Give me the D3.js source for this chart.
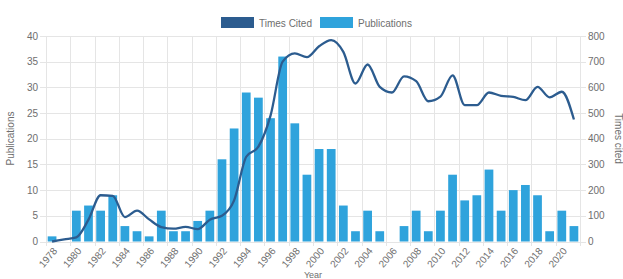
<!DOCTYPE html>
<html>
<head>
<meta charset="utf-8">
<script src="https://cdn.jsdelivr.net/npm/d3@7"></script>
<style>
  body { margin: 0; background: #fff; }
  svg { display: block; font-family: "Liberation Sans", Arial, sans-serif; }
</style>
</head>
<body>
<svg id="chart" width="623" height="279"></svg>
<script>
// Publications (bars, left axis) and times cited (line, right axis) per year
const years = d3.range(1978, 2022).map(String);
const publications = [1, 0, 6, 7, 6, 9, 3, 2, 1, 6, 2, 2, 4, 6, 16, 22, 29, 28, 24, 36, 23, 13,
  18, 18, 7, 2, 6, 2, 0, 3, 6, 2, 6, 13, 8, 9, 14, 6, 10, 11, 9, 2, 6, 3];
const timesCited = [0, 8, 16, 85, 180, 178, 95, 120, 86, 56, 50, 57, 48, 85, 100, 160, 330, 369, 490, 700, 732, 718,
  760, 784, 738, 615, 689, 602, 580, 643, 624, 546, 564, 647, 531, 531, 580, 567, 563, 550, 602, 561, 583, 475];
const pubTicks = d3.range(0, 41, 5);
const citeTicks = d3.range(0, 801, 100);

const colors = { bar: '#2fa3dc', line: '#2c5c8f', grid: '#e5e5e5', text: '#6e6e6e' };

const svg = d3.select('#chart');
const margin = { top: 36, right: 43, bottom: 38, left: 46 };
const width = 623, height = 279;
const x0 = margin.left, x1 = width - margin.right;
const y0 = height - margin.bottom, y1 = margin.top;

const x = d3.scaleBand().domain(years).range([x0, x1]).padding(0);
const yL = d3.scaleLinear().domain([0, 40]).range([y0 + 0.5, y1]);
const yR = d3.scaleLinear().domain([0, 800]).range([y0 + 0.5, y1]);

// horizontal grid (extends past axes as tick marks)
svg.append('g')
  .selectAll('line')
  .data(pubTicks)
  .join('line')
    .attr('x1', x0 - 6).attr('x2', x1 + 6)
    .attr('y1', d => Math.round(yL(d)) + 0.5).attr('y2', d => Math.round(yL(d)) + 0.5)
    .attr('stroke', colors.grid);

// vertical grid at left edge of every labelled year
const vGrid = years.filter((d, i) => i % 2 === 0).map(d => x(d)).concat([x1]);
svg.append('g')
  .selectAll('line')
  .data(vGrid)
  .join('line')
    .attr('x1', d => Math.round(d) + 0.5).attr('x2', d => Math.round(d) + 0.5)
    .attr('y1', y1).attr('y2', y0 + 5)
    .attr('stroke', colors.grid);

// bars
const barW = x.bandwidth() * 0.72;
svg.append('g')
  .selectAll('rect')
  .data(years)
  .join('rect')
    .attr('x', d => x(d) + (x.bandwidth() - barW) / 2)
    .attr('width', barW)
    .attr('y', (d, i) => yL(publications[i]))
    .attr('height', (d, i) => yL(0) - yL(publications[i]))
    .attr('fill', colors.bar);

// line
const line = d3.line()
  .x((d, i) => x(years[i]) + x.bandwidth() / 2)
  .y(d => yR(d))
  .curve(d3.curveMonotoneX);
svg.append('path')
  .datum(timesCited)
  .attr('d', line)
  .attr('fill', 'none')
  .attr('stroke', colors.line)
  .attr('stroke-width', 2.3)
  .attr('stroke-linejoin', 'round');

// left axis labels
svg.append('g')
  .selectAll('text')
  .data(pubTicks)
  .join('text')
    .attr('x', x0 - 8).attr('y', d => yL(d))
    .attr('dy', '0.35em')
    .attr('text-anchor', 'end')
    .attr('font-size', 10)
    .attr('fill', colors.text)
    .text(d => d);

// right axis labels
svg.append('g')
  .selectAll('text')
  .data(citeTicks)
  .join('text')
    .attr('x', x1 + 8).attr('y', d => yR(d))
    .attr('dy', '0.35em')
    .attr('text-anchor', 'start')
    .attr('font-size', 10)
    .attr('fill', colors.text)
    .text(d => d);

// x labels, every other year, rotated
svg.append('g')
  .selectAll('text')
  .data(years.filter((d, i) => i % 2 === 0))
  .join('text')
    .attr('transform', d => `translate(${x(d) + x.bandwidth() / 2 + 3},${y0 + 8}) rotate(-50)`)
    .attr('text-anchor', 'end')
    .attr('dy', '0.35em')
    .attr('font-size', 10)
    .attr('fill', colors.text)
    .text(d => d);

// axis titles
svg.append('text')
  .attr('transform', `translate(14,${(y0 + y1) / 2}) rotate(-90)`)
  .attr('text-anchor', 'middle')
  .attr('font-size', 10)
  .attr('fill', colors.text)
  .text('Publications');
svg.append('text')
  .attr('transform', `translate(615,${(y0 + y1) / 2}) rotate(90)`)
  .attr('text-anchor', 'middle')
  .attr('font-size', 10)
  .attr('fill', colors.text)
  .text('Times cited');
svg.append('text')
  .attr('x', (x0 + x1) / 2).attr('y', 278)
  .attr('text-anchor', 'middle')
  .attr('font-size', 9)
  .attr('fill', colors.text)
  .text('Year');

// legend
const legend = [
  { label: 'Times Cited', color: colors.line, x: 221 },
  { label: 'Publications', color: colors.bar, x: 320 }
];
const lg = svg.append('g')
  .selectAll('g')
  .data(legend)
  .join('g')
    .attr('transform', d => `translate(${d.x},17)`);
lg.append('rect')
  .attr('width', 33).attr('height', 11)
  .attr('fill', d => d.color);
lg.append('text')
  .attr('x', 38).attr('y', 6)
  .attr('dy', '0.35em')
  .attr('font-size', 10)
  .attr('fill', colors.text)
  .text(d => d.label);
</script>
</body>
</html>
